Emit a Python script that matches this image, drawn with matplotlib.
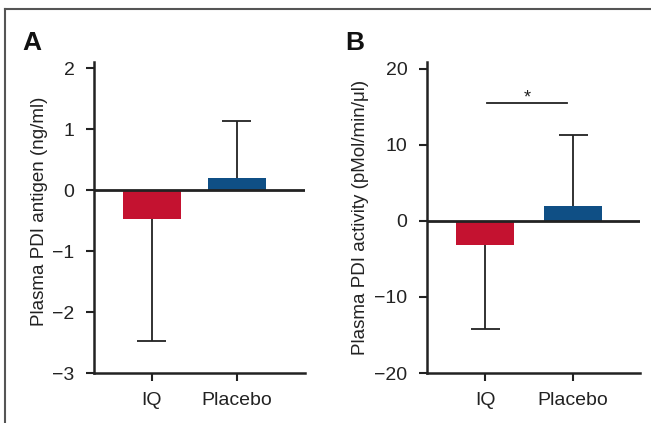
import matplotlib.pyplot as plt
from matplotlib.lines import Line2D

# data
groups = ['IQ', 'Placebo']
antigen_mean = [-0.48, 0.20]
antigen_err = [2.0, 0.94]        # one-sided, away from zero
activity_mean = [-3.2, 1.9]
activity_err = [11.0, 9.4]
bar_colors = ['#C41230', '#0F4F85']

plt.rcParams['font.family'] = ['Liberation Sans', 'DejaVu Sans']

fig = plt.figure(figsize=(6.51, 4.23), dpi=100)
W, H = 651, 423


def make_axes(left, right, bottom, top):
    return fig.add_axes([left / W, 1 - bottom / H, (right - left) / W, (bottom - top) / H])


def style(ax, means, errs, width, ylabel):
    x = list(range(len(groups)))
    ax.bar(x, means, width=width, color=bar_colors, zorder=2)
    # one-sided error bars, pointing away from zero
    ends = [m - e if m < 0 else m + e for m, e in zip(means, errs)]
    ax.vlines(x, means, ends, color='#222222', lw=1.3, zorder=1)
    ax.hlines(ends, [i - width / 4 for i in x], [i + width / 4 for i in x],
              color='#222222', lw=1.3, zorder=1)
    ax.axhline(0, color='#222222', lw=2, zorder=3)
    for s in ['top', 'right']:
        ax.spines[s].set_visible(False)
    for s in ['left', 'bottom']:
        ax.spines[s].set_linewidth(1.8)
        ax.spines[s].set_color('#222222')
    ax.set_xticks(x)
    ax.set_xticklabels(groups)
    ax.tick_params(axis='both', labelsize=14, length=6, width=1.5, color='#222222',
                   labelcolor='#222222')
    ax.tick_params(axis='y', pad=8)
    ax.tick_params(axis='x', pad=8)
    ax.set_ylabel(ylabel, fontsize=13.5, color='#222222')


# panel A
axA = make_axes(94, 305, 373, 62)
style(axA, antigen_mean, antigen_err, 0.68, 'Plasma PDI antigen (ng/ml)')
axA.set_xlim(-0.68, 1.8)
axA.set_ylim(-3, 2.1)
axA.set_yticks([-3, -2, -1, 0, 1, 2])
axA.set_yticklabels(['\u22123', '\u22122', '\u22121', '0', '1', '2'])
axA.yaxis.set_label_coords(-0.22, 0.52)

# panel B
axB = make_axes(427, 640, 373, 62)
style(axB, activity_mean, activity_err, 0.66, 'Plasma PDI activity (pMol/min/\u03bcl)')
axB.set_xlim(-0.66, 1.76)
axB.set_ylim(-20, 20.9)
axB.set_yticks([-20, -10, 0, 10, 20])
axB.set_yticklabels(['\u221220', '\u221210', '0', '10', '20'])
axB.yaxis.set_label_coords(-0.27, 0.50)

# significance bar
axB.plot([0.02, 0.93], [15.5, 15.5], color='#222222', lw=1.3)
axB.text(0.475, 15.1, '*', ha='center', va='bottom', fontsize=13, color='#222222')

# panel letters
fig.text(22 / W, 1 - 50 / H, 'A', fontsize=19, fontweight='bold', color='#111111')
fig.text(345 / W, 1 - 50 / H, 'B', fontsize=19, fontweight='bold', color='#111111')

# outer frame (top and left edges)
fig.add_artist(Line2D([5 / W, 1], [1 - 9 / H, 1 - 9 / H], color='#555555', lw=1.5))
fig.add_artist(Line2D([5 / W, 5 / W], [0, 1 - 9 / H], color='#555555', lw=1.5))

fig.savefig('out.png', dpi=100)
